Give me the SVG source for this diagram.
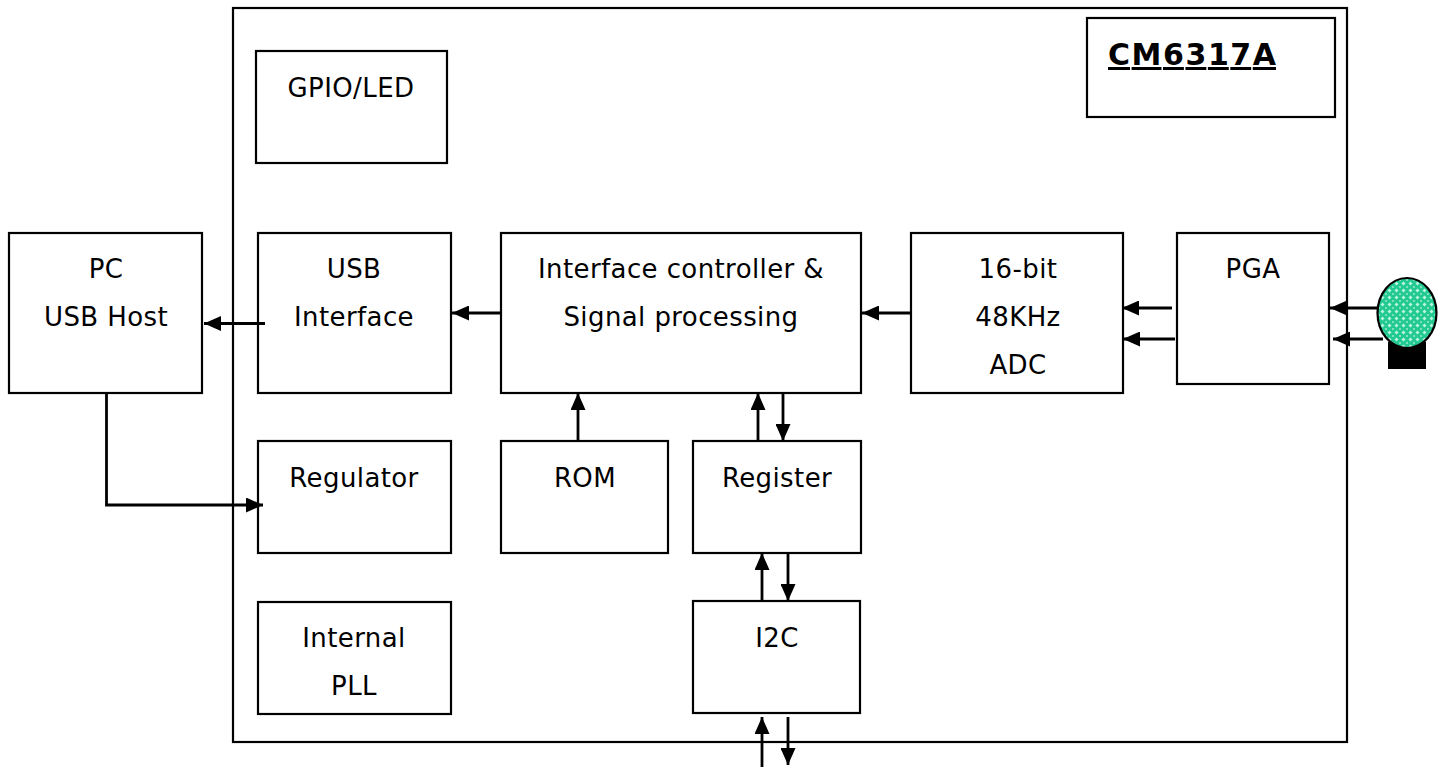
<svg xmlns="http://www.w3.org/2000/svg" width="1446" height="767" viewBox="0 0 1446 767">
<style>
.box{fill:#fff;stroke:#000;stroke-width:2.2}
.t{font-family:"DejaVu Sans","Verdana",sans-serif;font-size:26px;letter-spacing:0.4px;text-anchor:middle;fill:#000}
.w{fill:none;stroke:#000;stroke-width:2.8}
.title{font-family:"DejaVu Sans","Verdana",sans-serif;font-size:30px;font-weight:bold;text-decoration:underline;fill:#000}
</style>
<defs>
<marker id="ah" markerUnits="userSpaceOnUse" markerWidth="17" markerHeight="15" viewBox="0 0 17 15" refX="17" refY="7.5" orient="auto">
<path d="M0,0 L17,7.5 L0,15 Z" fill="#000"/>
</marker>
<pattern id="dots" patternUnits="userSpaceOnUse" width="7" height="7">
<rect width="7" height="7" fill="#22c990"/>
<path d="M3.5,1.5 L5.5,3.5 L3.5,5.5 L1.5,3.5 Z" fill="#b8f5dc"/>
<circle cx="0" cy="0" r="0.8" fill="#f0fff8"/>
<circle cx="7" cy="0" r="0.8" fill="#f0fff8"/>
<circle cx="0" cy="7" r="0.8" fill="#f0fff8"/>
<circle cx="7" cy="7" r="0.8" fill="#f0fff8"/>
</pattern>
</defs>
<rect width="1446" height="767" fill="#fff"/>
<g id="chip"><rect class="box" x="233" y="8" width="1114" height="734"/></g>
<g id="title"><rect class="box" x="1087" y="18" width="248" height="99"/>
<text class="title" x="1108" y="65" textLength="168" lengthAdjust="spacing">CM6317A</text></g>
<g id="gpio"><rect class="box" x="256" y="51" width="191" height="112"/><text class="t" x="351" y="97">GPIO/LED</text></g>
<g id="pc"><rect class="box" x="9" y="233" width="193" height="160"/><text class="t" x="106" y="278">PC</text><text class="t" x="106" y="326">USB Host</text></g>
<g id="usb"><rect class="box" x="258" y="233" width="193" height="160"/><text class="t" x="354" y="278">USB</text><text class="t" x="354" y="326">Interface</text></g>
<g id="ifc"><rect class="box" x="501" y="233" width="360" height="160"/><text class="t" x="681" y="278">Interface controller &amp;</text><text class="t" x="681" y="326">Signal processing</text></g>
<g id="adc"><rect class="box" x="911" y="233" width="212" height="160"/><text class="t" x="1018" y="278">16-bit</text><text class="t" x="1018" y="326">48KHz</text><text class="t" x="1018" y="374">ADC</text></g>
<g id="pga"><rect class="box" x="1177" y="233" width="152" height="151"/><text class="t" x="1253" y="278">PGA</text></g>
<g id="reg"><rect class="box" x="258" y="441" width="193" height="112"/><text class="t" x="354" y="487">Regulator</text></g>
<g id="rom"><rect class="box" x="501" y="441" width="167" height="112"/><text class="t" x="585" y="487">ROM</text></g>
<g id="register"><rect class="box" x="693" y="441" width="168" height="112"/><text class="t" x="777" y="487">Register</text></g>
<g id="i2c"><rect class="box" x="693" y="601" width="167" height="112"/><text class="t" x="777" y="647">I2C</text></g>
<g id="pll"><rect class="box" x="258" y="602" width="193" height="112"/><text class="t" x="354" y="647">Internal</text><text class="t" x="354" y="695">PLL</text></g>
<g id="mic">
<rect x="1388" y="342" width="38" height="27" fill="#000"/>
<ellipse cx="1407" cy="313" rx="29.5" ry="35" fill="url(#dots)" stroke="#000" stroke-width="2.2"/>
</g>
<g id="connectors">
<line class="w" x1="265" y1="323.5" x2="204" y2="323.5" marker-end="url(#ah)"/>
<polyline class="w" points="106.5,393 106.5,505 263,505" marker-end="url(#ah)"/>
<line class="w" x1="501" y1="313" x2="452" y2="313" marker-end="url(#ah)"/>
<line class="w" x1="911" y1="313" x2="862" y2="313" marker-end="url(#ah)"/>
<line class="w" x1="1172" y1="308" x2="1122" y2="308" marker-end="url(#ah)"/>
<line class="w" x1="1175" y1="339" x2="1123" y2="339" marker-end="url(#ah)"/>
<line class="w" x1="1377" y1="308" x2="1330" y2="308" marker-end="url(#ah)"/>
<line class="w" x1="1383" y1="339" x2="1333" y2="339" marker-end="url(#ah)"/>
<line class="w" x1="578" y1="441" x2="578" y2="393" marker-end="url(#ah)"/>
<line class="w" x1="758" y1="441" x2="758" y2="393" marker-end="url(#ah)"/>
<line class="w" x1="783" y1="393" x2="783" y2="441" marker-end="url(#ah)"/>
<line class="w" x1="762" y1="601" x2="762" y2="553" marker-end="url(#ah)"/>
<line class="w" x1="788" y1="553" x2="788" y2="601" marker-end="url(#ah)"/>
<line class="w" x1="762" y1="767" x2="762" y2="717" marker-end="url(#ah)"/>
<line class="w" x1="788" y1="717" x2="788" y2="765" marker-end="url(#ah)"/>
</g>
</svg>
